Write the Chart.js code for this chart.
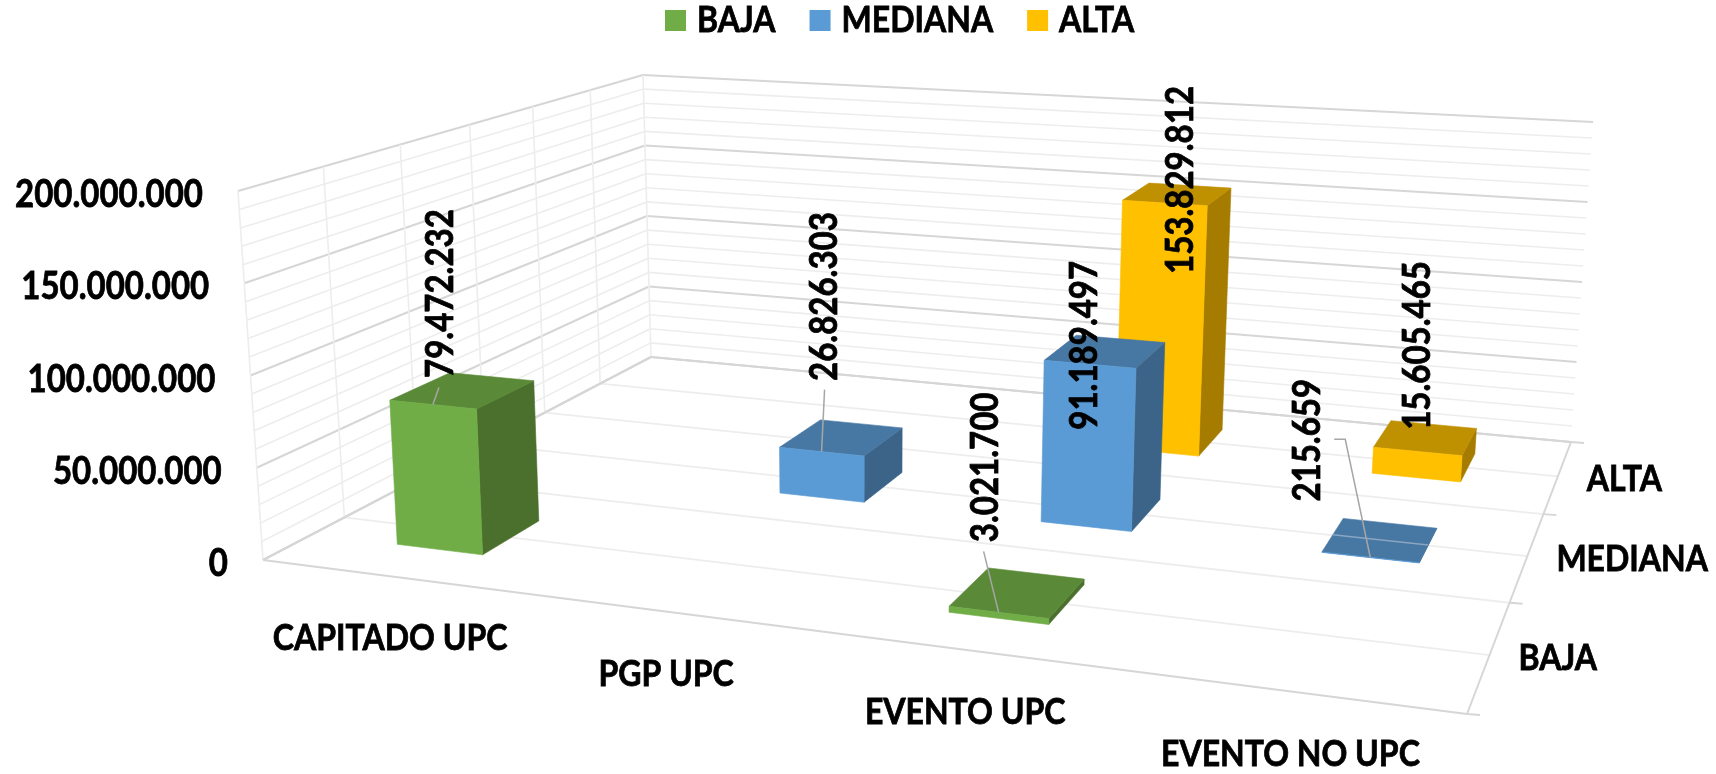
<!DOCTYPE html>
<html>
<head>
<meta charset="utf-8">
<style>
  html, body { margin: 0; padding: 0; background: #fff; }
  #wrap { position: relative; width: 1716px; height: 774px; }
</style>
</head>
<body>
<div id="wrap"><canvas id="chart3d"></canvas></div>
<script src="https://cdn.jsdelivr.net/npm/chart.js@4/dist/chart.umd.min.js"></script>
<script>
// data
const categories = ["CAPITADO UPC", "PGP UPC", "EVENTO UPC", "EVENTO NO UPC"];
const seriesNames = ["BAJA", "MEDIANA", "ALTA"];
const baja = [79472232, null, 3021700, null];
const mediana = [null, 26826303, 91189497, 215659];
const alta = [null, null, 153829812, 15605465];
const valueMax = 200000000;
const valueStep = 10000000;
const valueMajor = 50000000;

// colours: front, top, side
const palette = [
    ["#70ad47", "#5a8a38", "#4b702d"],
    ["#5b9bd5", "#4777a3", "#3b6488"],
    ["#ffc000", "#bf9000", "#a67c00"],
];

// the 3d frame on screen (floor and ceiling corners of the box)
const floorQuad = [[263, 560], [1467, 714], [1571, 442], [651, 357]];
const topQuad = [[238, 191], [1492, 277], [1593, 122], [643, 75]];
const barDepth = 0.4; // share of one depth row

// data labels were moved by hand in the original: [series, category, dx, dy, leader points]
const labelMoves = [
    [0, 0, 8, -111, [[6, -17]]],
    [0, 2, -13, -145, [[-15, -61]]],
    [1, 1, 3, -155, [[3, -62]]],
    [1, 2, -5, -19, null],
    [1, 3, -62, -117, [[-25, -118], [-36, -118]]],
    [2, 2, 16, -23, null],
    [2, 3, 0, -106, null],
];

const FONT = "bold 33px Lato";
const FONT_SMALL = "bold 32px Lato";
const TEXT_TALL = 1.14; // the original picture was stretched, letters are taller than wide

function makeHomography(q) {
    const [x0, y0] = q[0], [x1, y1] = q[1], [x2, y2] = q[2], [x3, y3] = q[3];
    const dx1 = x1 - x2, dx2 = x3 - x2, sx = x0 - x1 + x2 - x3;
    const dy1 = y1 - y2, dy2 = y3 - y2, sy = y0 - y1 + y2 - y3;
    const den = dx1 * dy2 - dx2 * dy1;
    const g = (sx * dy2 - dx2 * sy) / den;
    const h = (dx1 * sy - sx * dy1) / den;
    const a = x1 - x0 + g * x1, b = x3 - x0 + h * x3;
    const d = y1 - y0 + g * y1, e = y3 - y0 + h * y3;
    return (u, v) => {
        const w = g * u + h * v + 1;
        return [(a * u + b * v + x0) / w, (d * u + e * v + y0) / w];
    };
}
const floorAt = makeHomography(floorQuad);
const topAt = makeHomography(topQuad);

// u along categories, v into the depth, w up the value axis, all 0..1
function project(u, v, w) {
    const f = floorAt(u, v), t = topAt(u, v);
    return [f[0] + (t[0] - f[0]) * w, f[1] + (t[1] - f[1]) * w];
}

function fmt(n) {
    return String(n).replace(/\B(?=(\d{3})+(?!\d))/g, ".");
}

function valueShare(scale, val) {
    return (scale.bottom - scale.getPixelForValue(val)) / scale.height;
}

function line(ctx, a, b, color, width) {
    ctx.beginPath();
    ctx.moveTo(a[0], a[1]);
    ctx.lineTo(b[0], b[1]);
    ctx.strokeStyle = color;
    ctx.lineWidth = width;
    ctx.stroke();
}

function face(ctx, pts, color) {
    ctx.beginPath();
    pts.forEach((p, i) => (i ? ctx.lineTo(p[0], p[1]) : ctx.moveTo(p[0], p[1])));
    ctx.closePath();
    ctx.fillStyle = color;
    ctx.strokeStyle = color;
    ctx.lineWidth = 0.6;
    ctx.fill();
    ctx.stroke();
}

function text(ctx, str, x, y, align, angle, font) {
    ctx.save();
    ctx.translate(x, y);
    if (angle) ctx.rotate(angle);
    ctx.scale(1, TEXT_TALL);
    ctx.font = font || FONT;
    ctx.textAlign = align;
    ctx.textBaseline = "middle";
    ctx.fillStyle = "#000";
    ctx.strokeStyle = "#000";
    ctx.lineWidth = 0.7;
    ctx.fillText(str, 0, 0);
    ctx.strokeText(str, 0, 0);
    ctx.restore();
}

const DARK = "#d6d6d6", LIGHT = "#ededed";

function drawFrame(chart, ctx) {
    const yScale = chart.scales.y;
    const depth = chart.scales.depth;
    const rows = depth.getLabels().length;

    // horizontal lines on both walls, from the value scale
    yScale.ticks.forEach((t) => {
        const w = valueShare(yScale, t.value);
        const major = t.value % valueMajor === 0;
        const color = major ? DARK : LIGHT;
        line(ctx, project(0, 0, w), project(0, 1, w), color, major ? 2 : 1.6);
        line(ctx, project(0, 1, w), project(1, 1, w), color, major ? 2 : 1.6);
    });

    // floor lines and verticals on the left wall, every half row
    for (let k = 0; k <= rows * 2; k++) {
        const v = k / (rows * 2);
        if (k > 0 && k < rows * 2) line(ctx, project(0, v, 0), project(1, v, 0), LIGHT, 1.8);
        line(ctx, project(0, v, 0), project(0, v, 1), LIGHT, 1.6);
    }
    line(ctx, project(0, 0, 0), project(1, 0, 0), DARK, 2);
    line(ctx, project(0, 0, 0), project(0, 1, 0), DARK, 2);
    line(ctx, project(1, 0, 0), project(1, 1, 0), DARK, 2);
    line(ctx, project(0, 1, 0), project(1, 1, 0), DARK, 2);

    // outward ticks on the depth axis
    for (let k = 0; k <= rows; k++) {
        const p = project(1, k / rows, 0);
        line(ctx, p, [p[0] + 13, p[1] + 1], DARK, 1.8);
    }
}

function barBox(chart, s, c) {
    const el = chart.getDatasetMeta(s).data[c];
    const x = chart.scales.x, y = chart.scales.y, depth = chart.scales.depth;
    const u = (el.x - x.left) / x.width;
    const du = el.width / 2 / x.width;
    const v = (depth.getPixelForValue(s) - depth.left) / depth.width;
    const dv = barDepth / depth.getLabels().length / 2;
    const w = (y.bottom - el.y) / y.height;
    return { u, du, v, dv, w };
}

function drawBars(chart, ctx) {
    for (let s = chart.data.datasets.length - 1; s >= 0; s--) {
        chart.data.datasets[s].data.forEach((val, c) => {
            if (val === null) return;
            const b = barBox(chart, s, c);
            const l = b.u - b.du, r = b.u + b.du, n = b.v - b.dv, f = b.v + b.dv;
            const col = palette[s];
            face(ctx, [project(r, n, 0), project(r, f, 0), project(r, f, b.w), project(r, n, b.w)], col[2]);
            face(ctx, [project(l, n, b.w), project(r, n, b.w), project(r, f, b.w), project(l, f, b.w)], col[1]);
            face(ctx, [project(l, n, 0), project(r, n, 0), project(r, n, b.w), project(l, n, b.w)], col[0]);
            // an almost flat bar lets the floor line show through
            if (b.w < 0.005) line(ctx, project(l, b.v, b.w), project(r, b.v, b.w), "#8aa6c2", 1.5);
        });
    }
}

function drawAxisLabels(chart, ctx) {
    const yScale = chart.scales.y;
    yScale.ticks.forEach((t) => {
        if (t.value % valueMajor !== 0) return;
        const p = project(0, 0, valueShare(yScale, t.value));
        text(ctx, fmt(t.value), p[0] - 35, p[1] + 4, "right");
    });

    chart.scales.x.getLabels().forEach((name, i) => {
        const p = project((i + 0.5) / categories.length, 0, 0);
        text(ctx, name, p[0] - 3, p[1] + 62, "center", 0, FONT_SMALL);
    });

    const depth = chart.scales.depth;
    depth.getLabels().forEach((name, i) => {
        const p = project(1, (depth.getPixelForValue(i) - depth.left) / depth.width, 0);
        text(ctx, name, p[0] + 29, p[1] + 3, "left", 0, FONT_SMALL);
    });
}

function drawDataLabels(chart, ctx) {
    labelMoves.forEach(([s, c, dx, dy, leader]) => {
        const b = barBox(chart, s, c);
        const a = project(b.u, b.v - b.dv, b.w);
        if (leader) {
            ctx.beginPath();
            ctx.moveTo(a[0], a[1]);
            leader.forEach((p) => ctx.lineTo(a[0] + p[0], a[1] + p[1]));
            ctx.strokeStyle = "#a6a6a6";
            ctx.lineWidth = 1.5;
            ctx.stroke();
        }
    });
    labelMoves.forEach(([s, c, dx, dy]) => {
        const b = barBox(chart, s, c);
        const a = project(b.u, b.v - b.dv, b.w);
        text(ctx, fmt(chart.data.datasets[s].data[c]), a[0] + dx, a[1] + dy, "center", -Math.PI / 2);
    });
}

// legend by hand, the native one can't set the gap between box and text
function drawLegend(chart, ctx) {
    let x = 665;
    chart.data.datasets.forEach((ds) => {
        ctx.fillStyle = ds.backgroundColor;
        ctx.fillRect(x, 10, 21, 21);
        x += 21 + 11;
        text(ctx, ds.label, x, 20, "left", 0, FONT_SMALL);
        ctx.font = FONT_SMALL;
        x += ctx.measureText(ds.label).width + 34;
    });
}

const box3d = {
    id: "box3d",
    beforeDatasetsDraw(chart) {
        const ctx = chart.ctx;
        ctx.save();
        drawFrame(chart, ctx);
        drawBars(chart, ctx);
        drawAxisLabels(chart, ctx);
        drawDataLabels(chart, ctx);
        drawLegend(chart, ctx);
        ctx.restore();
    },
    // the flat bars are replaced by the boxes above
    beforeDatasetDraw() {
        return false;
    },
};

new Chart(document.getElementById("chart3d"), {
    type: "bar",
    data: {
        labels: categories,
        datasets: [
            { label: seriesNames[0], data: baja, backgroundColor: palette[0][0] },
            { label: seriesNames[1], data: mediana, backgroundColor: palette[1][0] },
            { label: seriesNames[2], data: alta, backgroundColor: palette[2][0] },
        ],
    },
    options: {
        responsive: true,
        maintainAspectRatio: false,
        animation: false,
        grouped: false,
        categoryPercentage: 1,
        barPercentage: 0.33,
        scales: {
            x: { display: false },
            y: { display: false, min: 0, max: valueMax, ticks: { stepSize: valueStep } },
            depth: { axis: "x", type: "category", labels: seriesNames, offset: true, display: false },
        },
        plugins: {
            tooltip: { enabled: false },
            legend: { display: false },
        },
    },
    plugins: [box3d],
});
</script>
</body>
</html>
